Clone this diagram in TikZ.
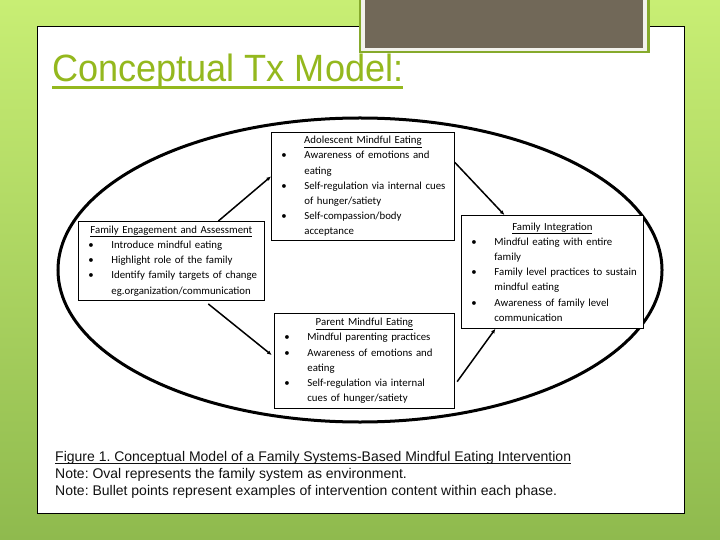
\documentclass[tikz,border=0pt]{standalone}
\usepackage{fontspec}
\setmainfont{Carlito}
\newfontfamily\arialfont{Liberation Sans}
\usetikzlibrary{arrows.meta,positioning,shapes.geometric}
\definecolor{SlideTop}{HTML}{C8EE74}
\definecolor{SlideBottom}{HTML}{8FBA4E}
\definecolor{TitleGreen}{HTML}{94B81E}
\definecolor{FrameGreen}{HTML}{86AA2C}
\definecolor{FrameWhite}{HTML}{F2F2EC}
\definecolor{Taupe}{HTML}{716858}
\definecolor{DarkText}{HTML}{111111}
\tikzset{
  phasebox/.style={draw=black, fill=white, line width=0.8bp, anchor=north west, inner xsep=0pt, inner ysep=2bp, align=left, font=\fontsize{10.8bp}{15.2bp}\selectfont},
  oval/.style={draw=black, line width=3bp, ellipse, inner sep=0pt},
  arr/.style={-{Latex[length=4.5bp,width=4bp]}, line width=1.5bp, draw=black}
}
\newcommand{\phasetitle}[1]{\makebox[\hsize]{\underline{#1}}}
\newcommand{\bul}[1]{\hspace*{10bp}\makebox[23bp][l]{\textbullet}#1}
\newcommand{\cnt}[1]{\hspace*{33bp}#1}
% underline with own depth and thickness
\newcommand{\rulebelow}[3]{\sbox0{#3}\usebox0\llap{\rule[-#1]{\wd0}{#2}}}
\frenchspacing

\begin{document}
\begin{tikzpicture}[x=1bp,y=-1bp]
\useasboundingbox (0,0) rectangle (720,540);
% slide
\shade[top color=SlideTop, bottom color=SlideBottom] (0,0) rectangle (720,540);
\draw[fill=white, line width=1bp] (37,27) rectangle (684,513);
\fill[FrameGreen] (359,-2) rectangle (650,53);
\fill[FrameWhite] (361,-2) rectangle (647,51);
\fill[Taupe] (365,-2) rectangle (643,48);
\node[anchor=base west, inner sep=0pt, text=TitleGreen, xscale=0.95, font=\arialfont\fontsize{38bp}{42bp}\selectfont] (title) at (52,82) {\rulebelow{7.5bp}{3.5bp}{Conceptual Tx Model:}};
% family system
\node[oval, minimum width=604bp, minimum height=304bp] (system) at (360,270) {};
% phases
\node[phasebox, text width=186bp, minimum height=79bp] (eng) at (78,221) {\phasetitle{Family Engagement and Assessment}\\
  \bul{Introduce mindful eating}\\
  \bul{Highlight role of the family}\\
  \bul{Identify family targets of change}\\
  \cnt{eg.organization/communication}};
\node[phasebox, text width=183bp, minimum height=108bp] (ado) at (271,132) {\phasetitle{Adolescent Mindful Eating}\\
  \bul{Awareness of emotions and}\\
  \cnt{eating}\\
  \bul{Self-regulation via internal cues}\\
  \cnt{of hunger/satiety}\\
  \bul{Self-compassion/body}\\
  \cnt{acceptance}};
\node[phasebox, text width=180bp, minimum height=95bp] (par) at (274,313) {\phasetitle{Parent Mindful Eating}\\
  \bul{Mindful parenting practices}\\
  \bul{Awareness of emotions and}\\
  \cnt{eating}\\
  \bul{Self-regulation via internal}\\
  \cnt{cues of hunger/satiety}};
\node[phasebox, text width=182bp, minimum height=113bp] (int) at (461,215) {\phasetitle{Family Integration}\\
  \bul{Mindful eating with entire}\\
  \cnt{family}\\
  \bul{Family level practices to sustain}\\
  \cnt{mindful eating}\\
  \bul{Awareness of family level}\\
  \cnt{communication}};
\draw[arr] ([xshift=47bp]eng.north) -- ([yshift=10bp]ado.west);
\draw[arr] ([yshift=24bp]ado.east) -- ([xshift=-48bp]int.north);
\draw[arr, shorten <=5bp, shorten >=3bp] ([xshift=33bp]eng.south) -- ([yshift=4bp]par.west);
\draw[arr, shorten <=4bp] ([yshift=-24bp]par.east) -- ([xshift=-57bp]int.south);
% caption
\node[anchor=north west, align=left, inner sep=0pt, text=DarkText, font=\arialfont\fontsize{14bp}{17bp}\selectfont] (caption) at (55,451) {\rulebelow{2.2bp}{1bp}{Figure 1. Conceptual Model of a Family Systems-Based Mindful Eating Intervention}\\
  Note: Oval represents the family system as environment.\\
  Note: Bullet points represent examples of intervention content within each phase.};
\end{tikzpicture}
\end{document}
